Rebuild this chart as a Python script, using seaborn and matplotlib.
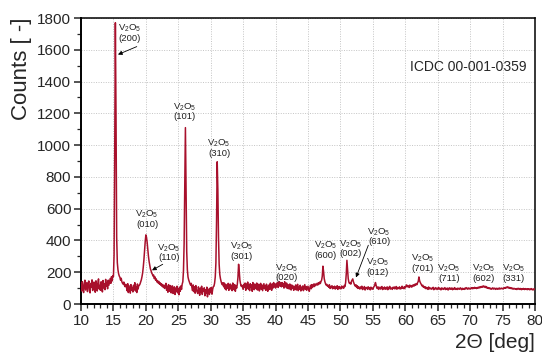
import numpy as np
import pandas as pd
import matplotlib
matplotlib.use("Agg")
import matplotlib.pyplot as plt
import seaborn as sns

# ---- data ----
two_theta = np.round(np.linspace(10.0, 80.0, 701), 1)
counts = [
    118, 82, 140, 97, 72, 128, 150, 88, 113, 135,
    78, 124, 145, 96, 70, 130, 105, 152, 85, 116,
    138, 90, 74, 146, 120, 82, 131, 158, 95, 117,
    86, 140, 119, 76, 148, 101, 127, 90, 155, 112,
    133, 96, 150, 118, 138, 160, 130, 172, 145, 178,
    172, 310, 960, 1770, 1180, 420, 260, 215, 190, 176,
    168, 150, 162, 140, 131, 125, 138, 117, 109, 124,
    108, 84, 128, 72, 115, 92, 68, 122, 86, 105,
    76, 118, 90, 134, 82, 110, 72, 126, 94, 115,
    118, 126, 140, 152, 171, 195, 232, 278, 336, 392,
    435, 420, 388, 340, 300, 268, 246, 221, 210, 195,
    188, 176, 182, 160, 171, 150, 158, 139, 147, 132,
    142, 125, 134, 118, 128, 111, 122, 104, 117, 98,
    118, 130, 86, 112, 74, 122, 98, 80, 116, 70,
    102, 114, 66, 90, 108, 60, 100, 78, 112, 70,
    96, 58, 106, 80, 114, 92, 125, 140, 210, 380,
    760, 1110, 690, 330, 215, 170, 152, 140, 128, 119,
    130, 104, 84, 120, 78, 108, 68, 116, 90, 76,
    66, 108, 88, 55, 100, 76, 112, 60, 95, 80,
    102, 52, 90, 68, 106, 45, 94, 78, 60, 100,
    72, 104, 62, 92, 110, 112, 132, 170, 260, 520,
    895, 720, 420, 250, 185, 160, 142, 128, 121, 134,
    108, 132, 96, 124, 88, 118, 100, 130, 86, 112,
    126, 94, 118, 84, 132, 102, 90, 122, 80, 114,
    100, 124, 168, 250, 205, 150, 127, 112, 118, 106,
    92, 124, 106, 132, 86, 126, 98, 138, 94, 118,
    84, 128, 104, 120, 80, 135, 102, 90, 126, 108,
    96, 132, 88, 115, 124, 82, 110, 130, 92, 120,
    84, 106, 128, 96, 116, 86, 125, 100, 80, 114,
    120, 92, 132, 104, 86, 126, 100, 135, 108, 124,
    100, 128, 110, 136, 104, 124, 140, 112, 132, 108,
    135, 112, 128, 100, 140, 116, 106, 132, 98, 122,
    118, 94, 126, 104, 88, 120, 98, 114, 86, 110,
    96, 120, 88, 108, 124, 84, 106, 94, 118, 82,
    106, 90, 114, 84, 104, 122, 92, 110, 86, 100,
    112, 90, 80, 104, 118, 96, 122, 104, 116, 126,
    110, 126, 117, 123, 130, 119, 133, 125, 138, 129,
    142, 150, 175, 238, 205, 160, 141, 128, 119, 124,
    112, 117, 105, 121, 98, 110, 103, 115, 96, 107,
    101, 112, 94, 106, 99, 115, 92, 104, 110, 97,
    105, 96, 113, 102, 108, 99, 117, 110, 135, 190,
    275, 215, 160, 138, 129, 134, 125, 143, 150, 158,
    140, 128, 118, 112, 121, 104, 115, 98, 109, 101,
    94, 107, 99, 112, 91, 103, 96, 110, 88, 101,
    98, 105, 92, 108, 97, 102, 89, 106, 95, 100,
    93, 104, 111, 120, 135, 118, 102, 97, 108, 92,
    99, 106, 94, 103, 110, 91, 100, 96, 107, 93,
    101, 95, 108, 90, 104, 97, 111, 94, 102, 98,
    92, 105, 99, 107, 95, 101, 110, 93, 104, 97,
    100, 108, 94, 103, 97, 112, 99, 105, 96, 109,
    101, 113, 120, 108, 116, 111, 104, 119, 109, 115,
    106, 118, 112, 121, 114, 125, 119, 128, 122, 135,
    142, 170, 148, 136, 128, 120, 113, 118, 105, 110,
    101, 108, 96, 104, 99, 92, 107, 95, 102, 98,
    93, 100, 96, 105, 90, 99, 94, 103, 97, 91,
    98, 104, 93, 100, 96, 89, 101, 95, 99, 92,
    97, 103, 91, 98, 94, 100, 88, 96, 102, 93,
    99, 94, 101, 90, 97, 95, 103, 92, 98, 96,
    91, 100, 95, 98, 93, 102, 96, 90, 99, 94,
    97, 92, 100, 95, 103, 98, 93, 101, 96, 99,
    94, 100, 97, 103, 96, 101, 98, 105, 99, 102,
    97, 104, 100, 106, 101, 108, 103, 110, 105, 112,
    107, 114, 109, 104, 111, 102, 106, 99, 103, 97,
    101, 95, 99, 93, 98, 102, 94, 97, 100, 92,
    96, 99, 93, 98, 95, 101, 94, 97, 100, 96,
    98, 95, 102, 99, 104, 100, 106, 103, 108, 101,
    105, 99, 103, 97, 101, 95, 99, 94, 98, 96,
    93, 97, 91, 96, 99, 94, 92, 98, 95, 90,
    96, 92, 98, 94, 91, 97, 93, 95, 90, 96,
    92, 95, 89, 94, 97, 91, 93, 88, 95, 92,
    94,
]

# peak labels: (hkl, label x, label y)
peak_hkl = ["(200)", "(101)", "(310)", "(010)", "(110)", "(301)", "(020)",
            "(600)", "(002)", "(610)", "(012)", "(701)", "(711)", "(602)", "(331)"]
label_x = [17.55, 26.03, 31.28, 20.18, 23.57, 34.82, 41.76,
           47.77, 51.63, 55.95, 55.79, 62.73, 66.74, 72.13, 76.76]
label_y = [1706, 1213, 985, 537, 325, 335, 199,
           341, 351, 426, 234, 259, 196, 196, 196]
# arrows: (tail x, tail y, head x, head y)
arrow_tail_x = [18.6, 22.6, 54.3]
arrow_tail_y = [1620, 250, 370]
arrow_head_x = [15.7, 20.95, 52.4]
arrow_head_y = [1570, 212, 167]

# ---- style ----
sns.set_style("ticks")
plt.rcParams["font.family"] = ["Liberation Sans", "DejaVu Sans"]
plt.rcParams["mathtext.fontset"] = "custom"
plt.rcParams["mathtext.rm"] = "Liberation Sans"
plt.rcParams["mathtext.it"] = "Liberation Sans:italic"
plt.rcParams["mathtext.bf"] = "Liberation Sans:bold"

fig = plt.figure(figsize=(5.42, 3.54), dpi=100)
ax = fig.add_axes([81 / 542, 1 - 304 / 354, 454 / 542, 286 / 354])

df = pd.DataFrame({"two_theta": two_theta, "counts": counts})
sns.lineplot(data=df, x="two_theta", y="counts", ax=ax, color="#a8102c",
             linewidth=1.1, zorder=3)

ax.set_xlim(10, 80)
ax.set_ylim(0, 1800)
ax.set_xticks(np.arange(10, 81, 5))
ax.set_yticks(np.arange(0, 1801, 200))
ax.set_xticks(np.arange(10, 81, 1), minor=True)
ax.set_yticks(np.arange(0, 1801, 100), minor=True)
ax.grid(True, which="major", linestyle=(0, (1, 1.5)), color="#c4c4c4", linewidth=0.7)
ax.tick_params(which="major", direction="out", length=5, width=1.1, labelsize=11, pad=2)
ax.tick_params(which="minor", direction="out", length=3, width=0.9)
for s in ax.spines.values():
    s.set_linewidth(1.1)
    s.set_color("black")
ax.spines["left"].set_linewidth(1.4)
ax.spines["bottom"].set_linewidth(1.4)

ax.set_ylabel("Counts [ -]", fontsize=16, loc="top", labelpad=4)
ax.set_xlabel("2\u0398 [deg]", fontsize=15, loc="right", labelpad=4)

for h, lx, ly in zip(peak_hkl, label_x, label_y):
    ax.text(lx, ly, "V$_2$O$_5$\n" + h, ha="center", va="center", fontsize=6.8,
            linespacing=0.95, zorder=5, color="#222222")

for tx, ty, hx, hy in zip(arrow_tail_x, arrow_tail_y, arrow_head_x, arrow_head_y):
    ax.annotate("", xy=(hx, hy), xytext=(tx, ty),
                arrowprops=dict(arrowstyle="-|>", color="black", lw=0.6,
                                mutation_scale=6, shrinkA=0, shrinkB=0), zorder=6)

ax.text(0.982, 0.829, "ICDC 00-001-0359", transform=ax.transAxes,
        ha="right", va="center", fontsize=10)

fig.savefig("out.png", dpi=100)
